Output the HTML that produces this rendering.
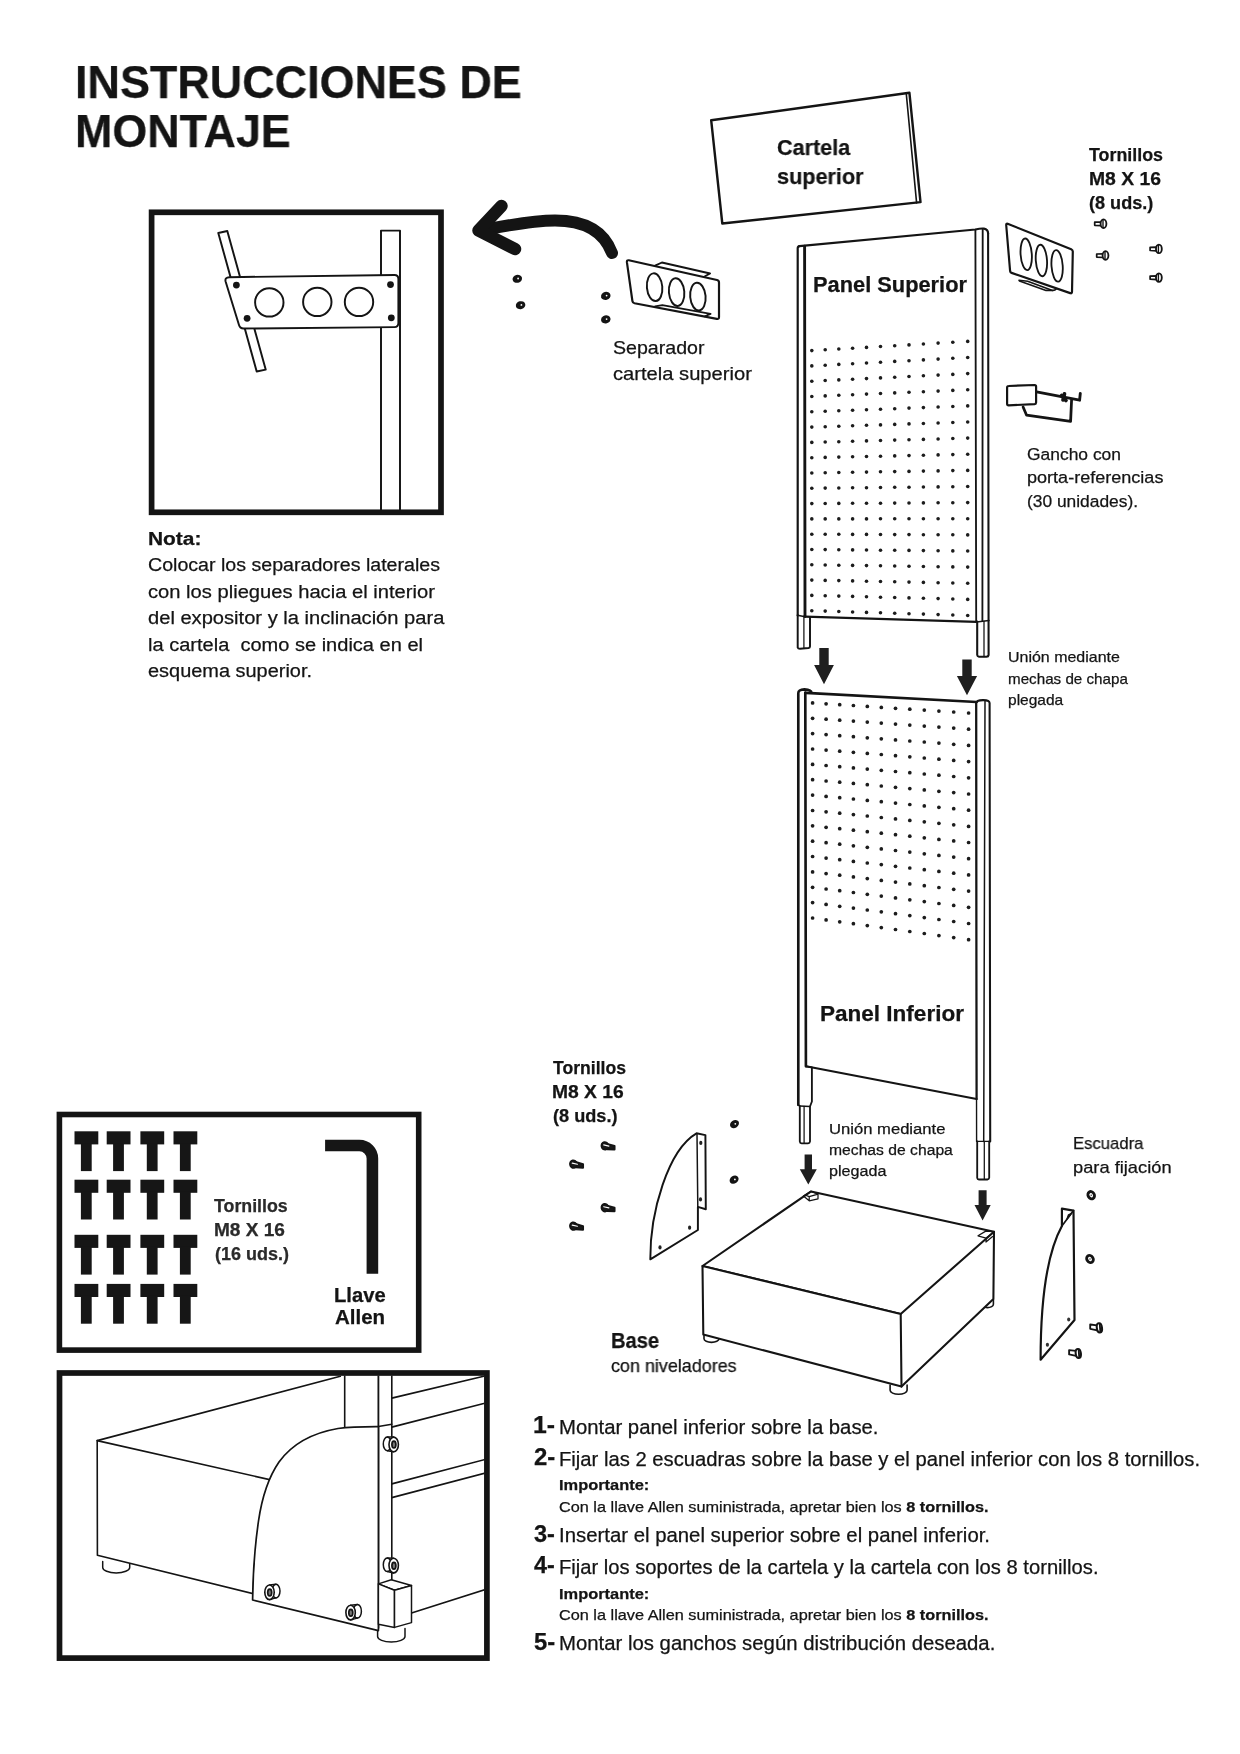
<!DOCTYPE html>
<html lang="es"><head><meta charset="utf-8"><title>Instrucciones de montaje</title>
<style>
html,body{margin:0;padding:0;background:#fff;}
body{width:1240px;height:1754px;position:relative;overflow:hidden;font-family:"Liberation Sans",sans-serif;color:#141414;}
svg#d{position:absolute;left:0;top:0;}
.t{position:absolute;white-space:nowrap;line-height:1;transform-origin:0 50%;font-weight:400;will-change:transform;-webkit-text-stroke:0.25px currentColor;}
.t b{font-weight:700;}
#pg{position:absolute;left:0;top:0;width:1240px;height:1754px;filter:blur(0.35px);}
</style></head><body><div id="pg">
<svg id="d" width="1240" height="1754" viewBox="0 0 1240 1754" fill="none" stroke="#141414" stroke-linecap="round" stroke-linejoin="round">
<g id="box1">
<rect x="151.6" y="212.3" width="289.4" height="300" stroke-width="5.7" stroke-linejoin="miter" fill="#fff"/>
<path d="M381 510 L381 230.6 L400 230.6 L400 510" stroke-width="1.95" fill="none" />
<path d="M218.3 233.0 L227.3 231.0 L265.7 369.6 L256.7 371.5 Z" stroke-width="1.95" fill="#fff" />
<path d="M229.4 277.2 L394.4 275 Q398.4 275 398.4 279 L398.4 323 Q398.4 327.1 394.4 327.1 L243.5 328.5 Q240 328.5 239 325 L225.6 281.5 Q224.6 277.3 229.4 277.2 Z" stroke-width="1.95" fill="#fff" />
<circle cx="269.3" cy="302.4" r="14.2" stroke-width="1.95" fill="none" />
<circle cx="317.3" cy="301.9" r="14.2" stroke-width="1.95" fill="none" />
<circle cx="359.0" cy="301.9" r="14.2" stroke-width="1.95" fill="none" />
<circle cx="236.4" cy="285.1" r="3.4" stroke-width="0" fill="#141414" />
<circle cx="247.1" cy="318.3" r="3.4" stroke-width="0" fill="#141414" />
<circle cx="390.5" cy="284.6" r="3.4" stroke-width="0" fill="#141414" />
<circle cx="391.3" cy="317.8" r="3.4" stroke-width="0" fill="#141414" />
</g>
<g id="arrow">
<path d="M612 253 C603 229 581 220.5 555 220.5 C530 220.5 505 226 481 230.5" stroke-width="12" fill="none" />
<path d="M501.5 206 L478.5 230.5 L515 249" stroke-width="12.5" fill="none" />
</g>
<ellipse cx="517.3" cy="278.8" rx="4.8" ry="4.0" stroke-width="0" fill="#141414" transform="rotate(-15 517.3 278.8)" />
<circle cx="518.1" cy="278.5" r="0.9" stroke-width="0" fill="#fff" />
<ellipse cx="520.6" cy="305.2" rx="4.8" ry="4.0" stroke-width="0" fill="#141414" transform="rotate(-15 520.6 305.2)" />
<circle cx="521.4" cy="304.9" r="0.9" stroke-width="0" fill="#fff" />
<ellipse cx="605.8" cy="295.9" rx="4.8" ry="4.0" stroke-width="0" fill="#141414" transform="rotate(-15 605.8 295.9)" />
<circle cx="606.6" cy="295.6" r="0.9" stroke-width="0" fill="#fff" />
<ellipse cx="605.8" cy="319.4" rx="4.8" ry="4.0" stroke-width="0" fill="#141414" transform="rotate(-15 605.8 319.4)" />
<circle cx="606.6" cy="319.1" r="0.9" stroke-width="0" fill="#fff" />
<g id="sepL">
<path d="M655.1 265.7 L661.9 262.5 L710.1 273.5 L704.9 276.2" stroke-width="1.84" fill="none" />
<path d="M628.8 260.3 L717 280 Q719 280.6 719 282.6 L719 317.2 Q718.9 319.4 716.8 318.9 L634.5 303.3 Q632.7 302.9 632.4 301 L626.9 262.2 Q626.7 259.9 628.8 260.3 Z" stroke-width="2.18" fill="#fff" />
<path d="M655.1 306.4 L662.4 305.2 L710.6 313.9 L704.9 316.3" stroke-width="1.72" fill="none" />
<ellipse cx="654.6" cy="287.2" rx="7.7" ry="13.9" stroke-width="1.95" fill="none" transform="rotate(-5 654.6 287.2)" />
<ellipse cx="676.6" cy="292.1" rx="7.7" ry="13.9" stroke-width="1.95" fill="none" transform="rotate(-5 676.6 292.1)" />
<ellipse cx="697.9" cy="296.6" rx="7.7" ry="13.9" stroke-width="1.95" fill="none" transform="rotate(-5 697.9 296.6)" />
</g>
<g id="cartela">
<path d="M711.2 120.3 L909.4 92.7 L920.5 202.1 L722.3 223.5 Z" stroke-width="2.42" fill="#fff" />
<path d="M906.3 94.0 L916.6 202.9" stroke-width="1.61" />
</g>
<g id="sepR">
<path d="M1019 280.3 L1027.6 281.2 L1052.5 290.4 Q1055 290.6 1056.2 289" stroke-width="1.61" fill="none" />
<path d="M1019.5 281 L1046 290.4 L1052.5 290.5" stroke-width="1.61" fill="none" />
<path d="M1007.6 223.7 L1071.2 249.2 Q1072.8 250 1072.8 251.6 L1072 292 Q1071.9 293.8 1070.2 293.1 L1011.6 272.9 Q1010.3 272.4 1010.1 271 L1006.2 225 Q1006.2 223.2 1007.6 223.7 Z" stroke-width="2.18" fill="#fff" />
<ellipse cx="1026.2" cy="254.3" rx="5.6" ry="15.8" stroke-width="1.84" fill="none" transform="rotate(-4 1026.2 254.3)" />
<ellipse cx="1041.4" cy="260.5" rx="5.6" ry="15.8" stroke-width="1.84" fill="none" transform="rotate(-4 1041.4 260.5)" />
<ellipse cx="1057.1" cy="265.9" rx="5.6" ry="15.8" stroke-width="1.84" fill="none" transform="rotate(-4 1057.1 265.9)" />
</g>
<path d="M1094.7 222.2 L1101.2 222.0 L1101.2 225.7 L1094.7 225.3 Z" stroke-width="1.72" fill="#fff" />
<ellipse cx="1103.5" cy="223.7" rx="2.9" ry="4.3" stroke-width="1.84" fill="#fff" />
<path d="M1103.0 220.1 L1103.0 227.3" stroke-width="1.38" />
<path d="M1096.7 254.0 L1103.2 253.8 L1103.2 257.5 L1096.7 257.1 Z" stroke-width="1.72" fill="#fff" />
<ellipse cx="1105.5" cy="255.5" rx="2.9" ry="4.3" stroke-width="1.84" fill="#fff" />
<path d="M1105.0 251.9 L1105.0 259.1" stroke-width="1.38" />
<path d="M1150.1 247.4 L1156.6 247.2 L1156.6 250.9 L1150.1 250.5 Z" stroke-width="1.72" fill="#fff" />
<ellipse cx="1158.9" cy="248.9" rx="2.9" ry="4.3" stroke-width="1.84" fill="#fff" />
<path d="M1158.4 245.3 L1158.4 252.5" stroke-width="1.38" />
<path d="M1150.1 276.1 L1156.6 275.9 L1156.6 279.6 L1150.1 279.2 Z" stroke-width="1.72" fill="#fff" />
<ellipse cx="1158.9" cy="277.6" rx="2.9" ry="4.3" stroke-width="1.84" fill="#fff" />
<path d="M1158.4 274.0 L1158.4 281.2" stroke-width="1.38" />
<g id="hook">
<path d="M1023.1 407 L1026.6 415.2 L1070.6 421.4 L1071.6 399.5" stroke-width="2.76" fill="none" />
<path d="M1036.6 391.8 L1079.6 400.2 L1080.3 393.4" stroke-width="2.88" fill="none" />
<path d="M1061.5 395.5 L1066 400.5 M1064.5 393.8 L1063 400" stroke-width="3.68" fill="none" />
<path d="M1008.6 386 L1034.6 385 Q1036.1 385 1036.1 386.5 L1036.1 402.6 Q1036.1 404.1 1034.6 404.2 L1008.6 405.3 Q1007.1 405.3 1007.1 403.8 L1007.1 387.5 Q1007.1 386 1008.6 386 Z" stroke-width="2.18" fill="#fff" />
</g>
<g id="panelU">
<path d="M797.4 246.8 L982.3 228.0 L988.3 229.6 L988.3 621.0 L976.6 621.9 L805.0 616.7 L797.4 615.5 Z" stroke-width="0" fill="#fff" />
<path d="M797.7 615 L797.7 647.5 Q798 648.8 800 648.8 L808.5 648 Q810 647.8 810 646.5 L810 617" stroke-width="1.95" fill="none" />
<path d="M803.9 616.0 L803.9 648.0" stroke-width="1.26" />
<path d="M797.7 615.5 L797.7 248.2 Q797.7 246.3 799.6 246.1" stroke-width="2.18" fill="none" />
<path d="M804.6 246.2 L805.0 616.5" stroke-width="2.88" />
<path d="M799.4 246.2 L975.4 229.5 Q981 228.2 984 228.6 Q988.1 229.3 988.1 233.5" stroke-width="2.18" fill="none" />
<path d="M975.4 229.6 L976.2 621.5" stroke-width="1.84" />
<path d="M982.7 228.8 L982.4 621.0" stroke-width="1.84" />
<path d="M988.1 233 L988.6 655 Q988.4 656.6 986.5 656.7 L979 656.7 Q977.3 656.5 977.2 655 L977.2 621.5" stroke-width="2.07" fill="none" />
<path d="M984.0 621.5 L984.0 656.5" stroke-width="1.26" />
<path d="M976.6 621.9 L989.0 620.6" stroke-width="1.49" />
<path d="M797.5 615.3 L805.0 616.7" stroke-width="1.49" />
<path d="M805.0 616.7 L976.6 621.9" stroke-width="2.3" />
<g stroke="none" fill="#1c1c1c"><circle cx="811.8" cy="350.6" r="1.8"/><circle cx="825.2" cy="349.8" r="1.8"/><circle cx="838.8" cy="349.0" r="1.8"/><circle cx="852.6" cy="348.2" r="1.8"/><circle cx="866.5" cy="347.4" r="1.8"/><circle cx="880.5" cy="346.5" r="1.8"/><circle cx="894.7" cy="345.7" r="1.8"/><circle cx="909.0" cy="344.9" r="1.8"/><circle cx="923.4" cy="344.0" r="1.8"/><circle cx="938.1" cy="343.1" r="1.8"/><circle cx="952.8" cy="342.3" r="1.8"/><circle cx="967.7" cy="341.4" r="1.8"/><circle cx="811.8" cy="365.9" r="1.8"/><circle cx="825.2" cy="365.2" r="1.8"/><circle cx="838.8" cy="364.4" r="1.8"/><circle cx="852.6" cy="363.7" r="1.8"/><circle cx="866.5" cy="363.0" r="1.8"/><circle cx="880.5" cy="362.2" r="1.8"/><circle cx="894.7" cy="361.4" r="1.8"/><circle cx="909.0" cy="360.7" r="1.8"/><circle cx="923.4" cy="359.9" r="1.8"/><circle cx="938.1" cy="359.1" r="1.8"/><circle cx="952.8" cy="358.3" r="1.8"/><circle cx="967.7" cy="357.5" r="1.8"/><circle cx="811.8" cy="381.2" r="1.8"/><circle cx="825.2" cy="380.5" r="1.8"/><circle cx="838.8" cy="379.9" r="1.8"/><circle cx="852.6" cy="379.2" r="1.8"/><circle cx="866.5" cy="378.6" r="1.8"/><circle cx="880.5" cy="377.9" r="1.8"/><circle cx="894.7" cy="377.2" r="1.8"/><circle cx="909.0" cy="376.5" r="1.8"/><circle cx="923.4" cy="375.8" r="1.8"/><circle cx="938.1" cy="375.1" r="1.8"/><circle cx="952.8" cy="374.4" r="1.8"/><circle cx="967.7" cy="373.6" r="1.8"/><circle cx="811.8" cy="396.5" r="1.8"/><circle cx="825.2" cy="395.9" r="1.8"/><circle cx="838.8" cy="395.3" r="1.8"/><circle cx="852.6" cy="394.7" r="1.8"/><circle cx="866.5" cy="394.1" r="1.8"/><circle cx="880.5" cy="393.5" r="1.8"/><circle cx="894.7" cy="392.9" r="1.8"/><circle cx="909.0" cy="392.3" r="1.8"/><circle cx="923.4" cy="391.7" r="1.8"/><circle cx="938.1" cy="391.1" r="1.8"/><circle cx="952.8" cy="390.4" r="1.8"/><circle cx="967.7" cy="389.8" r="1.8"/><circle cx="811.8" cy="411.8" r="1.8"/><circle cx="825.2" cy="411.3" r="1.8"/><circle cx="838.8" cy="410.8" r="1.8"/><circle cx="852.6" cy="410.3" r="1.8"/><circle cx="866.5" cy="409.7" r="1.8"/><circle cx="880.5" cy="409.2" r="1.8"/><circle cx="894.7" cy="408.7" r="1.8"/><circle cx="909.0" cy="408.1" r="1.8"/><circle cx="923.4" cy="407.6" r="1.8"/><circle cx="938.1" cy="407.0" r="1.8"/><circle cx="952.8" cy="406.5" r="1.8"/><circle cx="967.7" cy="405.9" r="1.8"/><circle cx="811.8" cy="427.1" r="1.8"/><circle cx="825.2" cy="426.7" r="1.8"/><circle cx="838.8" cy="426.2" r="1.8"/><circle cx="852.6" cy="425.8" r="1.8"/><circle cx="866.5" cy="425.3" r="1.8"/><circle cx="880.5" cy="424.9" r="1.8"/><circle cx="894.7" cy="424.4" r="1.8"/><circle cx="909.0" cy="423.9" r="1.8"/><circle cx="923.4" cy="423.5" r="1.8"/><circle cx="938.1" cy="423.0" r="1.8"/><circle cx="952.8" cy="422.5" r="1.8"/><circle cx="967.7" cy="422.0" r="1.8"/><circle cx="811.8" cy="442.4" r="1.8"/><circle cx="825.2" cy="442.0" r="1.8"/><circle cx="838.8" cy="441.7" r="1.8"/><circle cx="852.6" cy="441.3" r="1.8"/><circle cx="866.5" cy="440.9" r="1.8"/><circle cx="880.5" cy="440.5" r="1.8"/><circle cx="894.7" cy="440.1" r="1.8"/><circle cx="909.0" cy="439.7" r="1.8"/><circle cx="923.4" cy="439.4" r="1.8"/><circle cx="938.1" cy="439.0" r="1.8"/><circle cx="952.8" cy="438.5" r="1.8"/><circle cx="967.7" cy="438.1" r="1.8"/><circle cx="811.8" cy="457.7" r="1.8"/><circle cx="825.2" cy="457.4" r="1.8"/><circle cx="838.8" cy="457.1" r="1.8"/><circle cx="852.6" cy="456.8" r="1.8"/><circle cx="866.5" cy="456.5" r="1.8"/><circle cx="880.5" cy="456.2" r="1.8"/><circle cx="894.7" cy="455.9" r="1.8"/><circle cx="909.0" cy="455.6" r="1.8"/><circle cx="923.4" cy="455.2" r="1.8"/><circle cx="938.1" cy="454.9" r="1.8"/><circle cx="952.8" cy="454.6" r="1.8"/><circle cx="967.7" cy="454.3" r="1.8"/><circle cx="811.8" cy="473.0" r="1.8"/><circle cx="825.2" cy="472.8" r="1.8"/><circle cx="838.8" cy="472.5" r="1.8"/><circle cx="852.6" cy="472.3" r="1.8"/><circle cx="866.5" cy="472.1" r="1.8"/><circle cx="880.5" cy="471.8" r="1.8"/><circle cx="894.7" cy="471.6" r="1.8"/><circle cx="909.0" cy="471.4" r="1.8"/><circle cx="923.4" cy="471.1" r="1.8"/><circle cx="938.1" cy="470.9" r="1.8"/><circle cx="952.8" cy="470.6" r="1.8"/><circle cx="967.7" cy="470.4" r="1.8"/><circle cx="811.8" cy="488.3" r="1.8"/><circle cx="825.2" cy="488.1" r="1.8"/><circle cx="838.8" cy="488.0" r="1.8"/><circle cx="852.6" cy="487.8" r="1.8"/><circle cx="866.5" cy="487.7" r="1.8"/><circle cx="880.5" cy="487.5" r="1.8"/><circle cx="894.7" cy="487.3" r="1.8"/><circle cx="909.0" cy="487.2" r="1.8"/><circle cx="923.4" cy="487.0" r="1.8"/><circle cx="938.1" cy="486.9" r="1.8"/><circle cx="952.8" cy="486.7" r="1.8"/><circle cx="967.7" cy="486.5" r="1.8"/><circle cx="811.8" cy="503.6" r="1.8"/><circle cx="825.2" cy="503.5" r="1.8"/><circle cx="838.8" cy="503.4" r="1.8"/><circle cx="852.6" cy="503.3" r="1.8"/><circle cx="866.5" cy="503.3" r="1.8"/><circle cx="880.5" cy="503.2" r="1.8"/><circle cx="894.7" cy="503.1" r="1.8"/><circle cx="909.0" cy="503.0" r="1.8"/><circle cx="923.4" cy="502.9" r="1.8"/><circle cx="938.1" cy="502.8" r="1.8"/><circle cx="952.8" cy="502.7" r="1.8"/><circle cx="967.7" cy="502.6" r="1.8"/><circle cx="811.8" cy="518.9" r="1.8"/><circle cx="825.2" cy="518.9" r="1.8"/><circle cx="838.8" cy="518.9" r="1.8"/><circle cx="852.6" cy="518.9" r="1.8"/><circle cx="866.5" cy="518.9" r="1.8"/><circle cx="880.5" cy="518.8" r="1.8"/><circle cx="894.7" cy="518.8" r="1.8"/><circle cx="909.0" cy="518.8" r="1.8"/><circle cx="923.4" cy="518.8" r="1.8"/><circle cx="938.1" cy="518.8" r="1.8"/><circle cx="952.8" cy="518.8" r="1.8"/><circle cx="967.7" cy="518.8" r="1.8"/><circle cx="811.8" cy="534.2" r="1.8"/><circle cx="825.2" cy="534.3" r="1.8"/><circle cx="838.8" cy="534.3" r="1.8"/><circle cx="852.6" cy="534.4" r="1.8"/><circle cx="866.5" cy="534.4" r="1.8"/><circle cx="880.5" cy="534.5" r="1.8"/><circle cx="894.7" cy="534.6" r="1.8"/><circle cx="909.0" cy="534.6" r="1.8"/><circle cx="923.4" cy="534.7" r="1.8"/><circle cx="938.1" cy="534.8" r="1.8"/><circle cx="952.8" cy="534.8" r="1.8"/><circle cx="967.7" cy="534.9" r="1.8"/><circle cx="811.8" cy="549.5" r="1.8"/><circle cx="825.2" cy="549.6" r="1.8"/><circle cx="838.8" cy="549.8" r="1.8"/><circle cx="852.6" cy="549.9" r="1.8"/><circle cx="866.5" cy="550.0" r="1.8"/><circle cx="880.5" cy="550.2" r="1.8"/><circle cx="894.7" cy="550.3" r="1.8"/><circle cx="909.0" cy="550.4" r="1.8"/><circle cx="923.4" cy="550.6" r="1.8"/><circle cx="938.1" cy="550.7" r="1.8"/><circle cx="952.8" cy="550.9" r="1.8"/><circle cx="967.7" cy="551.0" r="1.8"/><circle cx="811.8" cy="564.8" r="1.8"/><circle cx="825.2" cy="565.0" r="1.8"/><circle cx="838.8" cy="565.2" r="1.8"/><circle cx="852.6" cy="565.4" r="1.8"/><circle cx="866.5" cy="565.6" r="1.8"/><circle cx="880.5" cy="565.8" r="1.8"/><circle cx="894.7" cy="566.0" r="1.8"/><circle cx="909.0" cy="566.3" r="1.8"/><circle cx="923.4" cy="566.5" r="1.8"/><circle cx="938.1" cy="566.7" r="1.8"/><circle cx="952.8" cy="566.9" r="1.8"/><circle cx="967.7" cy="567.1" r="1.8"/><circle cx="811.8" cy="580.1" r="1.8"/><circle cx="825.2" cy="580.4" r="1.8"/><circle cx="838.8" cy="580.6" r="1.8"/><circle cx="852.6" cy="580.9" r="1.8"/><circle cx="866.5" cy="581.2" r="1.8"/><circle cx="880.5" cy="581.5" r="1.8"/><circle cx="894.7" cy="581.8" r="1.8"/><circle cx="909.0" cy="582.1" r="1.8"/><circle cx="923.4" cy="582.4" r="1.8"/><circle cx="938.1" cy="582.7" r="1.8"/><circle cx="952.8" cy="583.0" r="1.8"/><circle cx="967.7" cy="583.3" r="1.8"/><circle cx="811.8" cy="595.4" r="1.8"/><circle cx="825.2" cy="595.7" r="1.8"/><circle cx="838.8" cy="596.1" r="1.8"/><circle cx="852.6" cy="596.4" r="1.8"/><circle cx="866.5" cy="596.8" r="1.8"/><circle cx="880.5" cy="597.2" r="1.8"/><circle cx="894.7" cy="597.5" r="1.8"/><circle cx="909.0" cy="597.9" r="1.8"/><circle cx="923.4" cy="598.2" r="1.8"/><circle cx="938.1" cy="598.6" r="1.8"/><circle cx="952.8" cy="599.0" r="1.8"/><circle cx="967.7" cy="599.4" r="1.8"/><circle cx="811.8" cy="610.7" r="1.8"/><circle cx="825.2" cy="611.1" r="1.8"/><circle cx="838.8" cy="611.5" r="1.8"/><circle cx="852.6" cy="612.0" r="1.8"/><circle cx="866.5" cy="612.4" r="1.8"/><circle cx="880.5" cy="612.8" r="1.8"/><circle cx="894.7" cy="613.3" r="1.8"/><circle cx="909.0" cy="613.7" r="1.8"/><circle cx="923.4" cy="614.1" r="1.8"/><circle cx="938.1" cy="614.6" r="1.8"/><circle cx="952.8" cy="615.0" r="1.8"/><circle cx="967.7" cy="615.5" r="1.8"/></g>
</g>
<path d="M819.3 647.9 L828.7 647.9 L828.7 664.9 L833.9 664.9 L824.0 684.3 L814.1 664.9 L819.3 664.9 Z" stroke-width="0" fill="#1f1f1f" />
<path d="M962.3 659.4 L971.7 659.4 L971.7 676.0 L977.1 676.0 L967.0 695.2 L956.9 676.0 L962.3 676.0 Z" stroke-width="0" fill="#1f1f1f" />
<path d="M804.6 1154.4 L812.0 1154.4 L812.0 1169.2 L816.8 1169.2 L808.3 1184.6 L799.8 1169.2 L804.6 1169.2 Z" stroke-width="0" fill="#1f1f1f" />
<path d="M978.6 1190.2 L986.6 1190.2 L986.6 1205.0 L990.7 1205.0 L982.6 1220.6 L974.5 1205.0 L978.6 1205.0 Z" stroke-width="0" fill="#1f1f1f" />
<g id="panelL">
<path d="M798.0 692.0 L806.0 692.7 L976.6 702.0 L989.6 701.0 L989.6 1141.0 L977.0 1141.0 L976.6 1099.1 L806.0 1066.3 L798.5 1066.0 Z" stroke-width="0" fill="#fff" />
<path d="M811.4 692.6 Q811.5 690 804.4 689.4 Q798 689.6 798.3 693.5 L798.3 1104.7" stroke-width="2.64" fill="none" />
<path d="M805.3 692.5 L805.9 1066.3" stroke-width="2.64" />
<path d="M806 1066.3 L811.9 1067.4 L811.9 1101.5 L810 1106.5 L810 1141.5 Q809.8 1143.2 808 1143.3 L801.6 1143.3 Q799.9 1143.2 799.8 1141.5 L799.8 1106 L797.9 1104.7" stroke-width="1.84" fill="none" />
<path d="M799.8 1106.0 L810.0 1106.5" stroke-width="1.26" />
<path d="M804.1 1106.3 L804.1 1143.0" stroke-width="1.26" />
<path d="M805.8 692.9 L976.6 702.0" stroke-width="2.64" />
<path d="M976.6 1099.1 L976.3 703 Q976.4 700.3 983 700.1 Q989.4 700 989.6 703 L990.2 1141.4" stroke-width="2.07" fill="none" />
<path d="M975.9 703.0 L976.6 1141.4" stroke-width="1.38" />
<path d="M985.0 701.5 L983.7 1141.4" stroke-width="1.49" />
<path d="M976.6 1141.4 L990.2 1141.4" stroke-width="1.26" />
<path d="M977.2 1141.4 L977.2 1177.8 Q977.4 1179.4 979 1179.5 L987.4 1179.5 Q989.1 1179.4 989.2 1177.8 L989.2 1141.4" stroke-width="1.84" fill="none" />
<path d="M984.3 1141.4 L984.3 1179.0" stroke-width="1.26" />
<path d="M806.0 1066.3 L976.6 1099.1" stroke-width="2.07" />
<g stroke="none" fill="#1c1c1c"><circle cx="812.6" cy="702.9" r="1.85"/><circle cx="826.1" cy="703.8" r="1.85"/><circle cx="839.7" cy="704.7" r="1.85"/><circle cx="853.4" cy="705.5" r="1.85"/><circle cx="867.3" cy="706.4" r="1.85"/><circle cx="881.3" cy="707.4" r="1.85"/><circle cx="895.5" cy="708.3" r="1.85"/><circle cx="909.8" cy="709.2" r="1.85"/><circle cx="924.3" cy="710.1" r="1.85"/><circle cx="938.9" cy="711.1" r="1.85"/><circle cx="953.7" cy="712.0" r="1.85"/><circle cx="968.6" cy="713.0" r="1.85"/><circle cx="812.6" cy="718.3" r="1.85"/><circle cx="826.1" cy="719.2" r="1.85"/><circle cx="839.7" cy="720.2" r="1.85"/><circle cx="853.4" cy="721.1" r="1.85"/><circle cx="867.3" cy="722.1" r="1.85"/><circle cx="881.3" cy="723.1" r="1.85"/><circle cx="895.5" cy="724.1" r="1.85"/><circle cx="909.8" cy="725.1" r="1.85"/><circle cx="924.3" cy="726.1" r="1.85"/><circle cx="938.9" cy="727.1" r="1.85"/><circle cx="953.7" cy="728.1" r="1.85"/><circle cx="968.6" cy="729.2" r="1.85"/><circle cx="812.6" cy="733.6" r="1.85"/><circle cx="826.1" cy="734.6" r="1.85"/><circle cx="839.7" cy="735.7" r="1.85"/><circle cx="853.4" cy="736.7" r="1.85"/><circle cx="867.3" cy="737.8" r="1.85"/><circle cx="881.3" cy="738.8" r="1.85"/><circle cx="895.5" cy="739.9" r="1.85"/><circle cx="909.8" cy="741.0" r="1.85"/><circle cx="924.3" cy="742.0" r="1.85"/><circle cx="938.9" cy="743.1" r="1.85"/><circle cx="953.7" cy="744.3" r="1.85"/><circle cx="968.6" cy="745.4" r="1.85"/><circle cx="812.6" cy="749.0" r="1.85"/><circle cx="826.1" cy="750.1" r="1.85"/><circle cx="839.7" cy="751.2" r="1.85"/><circle cx="853.4" cy="752.3" r="1.85"/><circle cx="867.3" cy="753.4" r="1.85"/><circle cx="881.3" cy="754.5" r="1.85"/><circle cx="895.5" cy="755.7" r="1.85"/><circle cx="909.8" cy="756.8" r="1.85"/><circle cx="924.3" cy="758.0" r="1.85"/><circle cx="938.9" cy="759.2" r="1.85"/><circle cx="953.7" cy="760.4" r="1.85"/><circle cx="968.6" cy="761.6" r="1.85"/><circle cx="812.6" cy="764.4" r="1.85"/><circle cx="826.1" cy="765.5" r="1.85"/><circle cx="839.7" cy="766.7" r="1.85"/><circle cx="853.4" cy="767.9" r="1.85"/><circle cx="867.3" cy="769.1" r="1.85"/><circle cx="881.3" cy="770.3" r="1.85"/><circle cx="895.5" cy="771.5" r="1.85"/><circle cx="909.8" cy="772.7" r="1.85"/><circle cx="924.3" cy="774.0" r="1.85"/><circle cx="938.9" cy="775.2" r="1.85"/><circle cx="953.7" cy="776.5" r="1.85"/><circle cx="968.6" cy="777.8" r="1.85"/><circle cx="812.6" cy="779.7" r="1.85"/><circle cx="826.1" cy="781.0" r="1.85"/><circle cx="839.7" cy="782.2" r="1.85"/><circle cx="853.4" cy="783.4" r="1.85"/><circle cx="867.3" cy="784.7" r="1.85"/><circle cx="881.3" cy="786.0" r="1.85"/><circle cx="895.5" cy="787.3" r="1.85"/><circle cx="909.8" cy="788.6" r="1.85"/><circle cx="924.3" cy="789.9" r="1.85"/><circle cx="938.9" cy="791.3" r="1.85"/><circle cx="953.7" cy="792.6" r="1.85"/><circle cx="968.6" cy="794.0" r="1.85"/><circle cx="812.6" cy="795.1" r="1.85"/><circle cx="826.1" cy="796.4" r="1.85"/><circle cx="839.7" cy="797.7" r="1.85"/><circle cx="853.4" cy="799.0" r="1.85"/><circle cx="867.3" cy="800.4" r="1.85"/><circle cx="881.3" cy="801.7" r="1.85"/><circle cx="895.5" cy="803.1" r="1.85"/><circle cx="909.8" cy="804.5" r="1.85"/><circle cx="924.3" cy="805.9" r="1.85"/><circle cx="938.9" cy="807.3" r="1.85"/><circle cx="953.7" cy="808.7" r="1.85"/><circle cx="968.6" cy="810.2" r="1.85"/><circle cx="812.6" cy="810.5" r="1.85"/><circle cx="826.1" cy="811.8" r="1.85"/><circle cx="839.7" cy="813.2" r="1.85"/><circle cx="853.4" cy="814.6" r="1.85"/><circle cx="867.3" cy="816.0" r="1.85"/><circle cx="881.3" cy="817.5" r="1.85"/><circle cx="895.5" cy="818.9" r="1.85"/><circle cx="909.8" cy="820.4" r="1.85"/><circle cx="924.3" cy="821.8" r="1.85"/><circle cx="938.9" cy="823.3" r="1.85"/><circle cx="953.7" cy="824.8" r="1.85"/><circle cx="968.6" cy="826.4" r="1.85"/><circle cx="812.6" cy="825.8" r="1.85"/><circle cx="826.1" cy="827.3" r="1.85"/><circle cx="839.7" cy="828.7" r="1.85"/><circle cx="853.4" cy="830.2" r="1.85"/><circle cx="867.3" cy="831.7" r="1.85"/><circle cx="881.3" cy="833.2" r="1.85"/><circle cx="895.5" cy="834.7" r="1.85"/><circle cx="909.8" cy="836.2" r="1.85"/><circle cx="924.3" cy="837.8" r="1.85"/><circle cx="938.9" cy="839.4" r="1.85"/><circle cx="953.7" cy="840.9" r="1.85"/><circle cx="968.6" cy="842.5" r="1.85"/><circle cx="812.6" cy="841.2" r="1.85"/><circle cx="826.1" cy="842.7" r="1.85"/><circle cx="839.7" cy="844.2" r="1.85"/><circle cx="853.4" cy="845.8" r="1.85"/><circle cx="867.3" cy="847.3" r="1.85"/><circle cx="881.3" cy="848.9" r="1.85"/><circle cx="895.5" cy="850.5" r="1.85"/><circle cx="909.8" cy="852.1" r="1.85"/><circle cx="924.3" cy="853.8" r="1.85"/><circle cx="938.9" cy="855.4" r="1.85"/><circle cx="953.7" cy="857.1" r="1.85"/><circle cx="968.6" cy="858.7" r="1.85"/><circle cx="812.6" cy="856.5" r="1.85"/><circle cx="826.1" cy="858.1" r="1.85"/><circle cx="839.7" cy="859.7" r="1.85"/><circle cx="853.4" cy="861.4" r="1.85"/><circle cx="867.3" cy="863.0" r="1.85"/><circle cx="881.3" cy="864.6" r="1.85"/><circle cx="895.5" cy="866.3" r="1.85"/><circle cx="909.8" cy="868.0" r="1.85"/><circle cx="924.3" cy="869.7" r="1.85"/><circle cx="938.9" cy="871.4" r="1.85"/><circle cx="953.7" cy="873.2" r="1.85"/><circle cx="968.6" cy="874.9" r="1.85"/><circle cx="812.6" cy="871.9" r="1.85"/><circle cx="826.1" cy="873.6" r="1.85"/><circle cx="839.7" cy="875.2" r="1.85"/><circle cx="853.4" cy="876.9" r="1.85"/><circle cx="867.3" cy="878.6" r="1.85"/><circle cx="881.3" cy="880.4" r="1.85"/><circle cx="895.5" cy="882.1" r="1.85"/><circle cx="909.8" cy="883.9" r="1.85"/><circle cx="924.3" cy="885.7" r="1.85"/><circle cx="938.9" cy="887.5" r="1.85"/><circle cx="953.7" cy="889.3" r="1.85"/><circle cx="968.6" cy="891.1" r="1.85"/><circle cx="812.6" cy="887.3" r="1.85"/><circle cx="826.1" cy="889.0" r="1.85"/><circle cx="839.7" cy="890.7" r="1.85"/><circle cx="853.4" cy="892.5" r="1.85"/><circle cx="867.3" cy="894.3" r="1.85"/><circle cx="881.3" cy="896.1" r="1.85"/><circle cx="895.5" cy="897.9" r="1.85"/><circle cx="909.8" cy="899.8" r="1.85"/><circle cx="924.3" cy="901.6" r="1.85"/><circle cx="938.9" cy="903.5" r="1.85"/><circle cx="953.7" cy="905.4" r="1.85"/><circle cx="968.6" cy="907.3" r="1.85"/><circle cx="812.6" cy="902.6" r="1.85"/><circle cx="826.1" cy="904.4" r="1.85"/><circle cx="839.7" cy="906.3" r="1.85"/><circle cx="853.4" cy="908.1" r="1.85"/><circle cx="867.3" cy="910.0" r="1.85"/><circle cx="881.3" cy="911.8" r="1.85"/><circle cx="895.5" cy="913.7" r="1.85"/><circle cx="909.8" cy="915.6" r="1.85"/><circle cx="924.3" cy="917.6" r="1.85"/><circle cx="938.9" cy="919.5" r="1.85"/><circle cx="953.7" cy="921.5" r="1.85"/><circle cx="968.6" cy="923.5" r="1.85"/><circle cx="812.6" cy="918.0" r="1.85"/><circle cx="826.1" cy="919.9" r="1.85"/><circle cx="839.7" cy="921.8" r="1.85"/><circle cx="853.4" cy="923.7" r="1.85"/><circle cx="867.3" cy="925.6" r="1.85"/><circle cx="881.3" cy="927.6" r="1.85"/><circle cx="895.5" cy="929.5" r="1.85"/><circle cx="909.8" cy="931.5" r="1.85"/><circle cx="924.3" cy="933.5" r="1.85"/><circle cx="938.9" cy="935.6" r="1.85"/><circle cx="953.7" cy="937.6" r="1.85"/><circle cx="968.6" cy="939.7" r="1.85"/></g>
</g>
<g id="base">
<path d="M704.0 1334.1 L704.0 1338.8 A7.5 3.6 0 0 0 719.0 1338.8 L719.0 1334.1" stroke-width="1.61" fill="#fff" />
<path d="M890.1 1385.1 L890.1 1390.3 A8.5 4.0 0 0 0 907.1 1390.3 L907.1 1385.1" stroke-width="1.61" fill="#fff" />
<path d="M981.4 1299.8 L981.4 1304.2 A6.0 3.4 0 0 0 993.4 1304.2 L993.4 1299.8" stroke-width="1.61" fill="#fff" />
<path d="M811.1 1191.4 L994.0 1231.7 L993.4 1298.9 L901.5 1386.6 L703.3 1334.5 L702.5 1266.0 Z" stroke-width="0" fill="#fff" />
<path d="M811.1 1191.4 L994.0 1231.7 L900.7 1314.0 L702.5 1266.0 Z" stroke-width="2.07" fill="#fff" />
<path d="M702.5 1266.0 L900.7 1314.0 L901.5 1386.6 L703.3 1334.5 Z" stroke-width="2.07" fill="#fff" />
<path d="M994 1231.7 L993.4 1298.9 L901.5 1386.6" stroke-width="2.07" fill="none" />
<path d="M803.4 1196.1 L811.1 1191.4 L818 1194.2 L818 1198.8 L809.2 1200.8 L803.4 1196.1 M809.2 1200.8 L809.2 1196.6 L818 1194.2 M809.2 1196.6 L805 1195" stroke-width="1.26" fill="none" />
<path d="M978 1235.8 L985.8 1231.1 L994 1231.7 L986 1238.2 Z M986 1238.2 L986 1242 L992.6 1236.6" stroke-width="1.26" fill="none" />
</g>
<g id="brL">
<path d="M696.5 1133.3 L705.4 1135.1 L705.8 1209.2 L697.9 1206.9 L697.9 1230 L650.3 1259.3 C650 1212 668 1150 696.5 1133.3 Z" stroke-width="1.95" fill="#fff" />
<path d="M697.0 1134.0 L697.8 1207.0" stroke-width="1.49" />
<ellipse cx="700.8" cy="1142.9" rx="1.6" ry="2.1" stroke-width="0" fill="#222" />
<ellipse cx="700.5" cy="1199.4" rx="1.6" ry="2.1" stroke-width="0" fill="#222" />
<ellipse cx="689.6" cy="1227.7" rx="1.6" ry="2.1" stroke-width="0" fill="#222" />
<ellipse cx="660.0" cy="1247.4" rx="1.6" ry="2.1" stroke-width="0" fill="#222" />
</g>
<path d="M607.1 1143.9 L614.5 1146.0 L614.5 1149.5 L607.1 1149.1 Z" stroke-width="2.07" fill="#1a1a1a" />
<ellipse cx="604.9" cy="1145.9" rx="3.5" ry="3.9" stroke-width="1.61" fill="#1a1a1a" transform="rotate(-12 604.9 1145.9)" />
<path d="M603.7 1144.9 L608.9 1146.1" stroke="#fff" stroke-width="1.1"/>
<path d="M575.6 1162.1 L583.0 1164.2 L583.0 1167.7 L575.6 1167.3 Z" stroke-width="2.07" fill="#1a1a1a" />
<ellipse cx="573.4" cy="1164.1" rx="3.5" ry="3.9" stroke-width="1.61" fill="#1a1a1a" transform="rotate(-12 573.4 1164.1)" />
<path d="M572.2 1163.1 L577.4 1164.3" stroke="#fff" stroke-width="1.1"/>
<path d="M607.1 1205.7 L614.5 1207.8 L614.5 1211.3 L607.1 1210.9 Z" stroke-width="2.07" fill="#1a1a1a" />
<ellipse cx="604.9" cy="1207.7" rx="3.5" ry="3.9" stroke-width="1.61" fill="#1a1a1a" transform="rotate(-12 604.9 1207.7)" />
<path d="M603.7 1206.7 L608.9 1207.9" stroke="#fff" stroke-width="1.1"/>
<path d="M575.6 1224.1 L583.0 1226.2 L583.0 1229.7 L575.6 1229.3 Z" stroke-width="2.07" fill="#1a1a1a" />
<ellipse cx="573.4" cy="1226.1" rx="3.5" ry="3.9" stroke-width="1.61" fill="#1a1a1a" transform="rotate(-12 573.4 1226.1)" />
<path d="M572.2 1225.1 L577.4 1226.3" stroke="#fff" stroke-width="1.1"/>
<ellipse cx="734.5" cy="1124.1" rx="4.8" ry="3.8" stroke-width="0" fill="#141414" transform="rotate(-35 734.5 1124.1)" />
<circle cx="735.3" cy="1123.8" r="0.9" stroke-width="0" fill="#fff" />
<ellipse cx="734.1" cy="1179.7" rx="4.8" ry="3.8" stroke-width="0" fill="#141414" transform="rotate(-35 734.1 1179.7)" />
<circle cx="734.9" cy="1179.4" r="0.9" stroke-width="0" fill="#fff" />
<g id="brR">
<path d="M1061.9 1208.7 L1073.5 1210.6 L1074.5 1320 L1040.6 1359.7 C1040.6 1308 1045.5 1256 1061.9 1226 Z" stroke-width="2.18" fill="#fff" />
<path d="M1061.9 1226 L1073.5 1210.6" stroke-width="1.72" fill="none" />
<path d="M1067 1219 L1071.5 1213.3 L1068.5 1214.8 Z" stroke-width="1.38" fill="#333" />
<ellipse cx="1068.7" cy="1319.6" rx="1.6" ry="2.0" stroke-width="0" fill="#333" />
<ellipse cx="1047.4" cy="1344.8" rx="1.6" ry="2.0" stroke-width="0" fill="#333" />
</g>
<ellipse cx="1091.2" cy="1195.2" rx="3.1" ry="3.8" stroke-width="2.88" fill="#fff" transform="rotate(-30 1091.2 1195.2)" />
<circle cx="1091.2" cy="1195.2" r="0.7" stroke-width="0" fill="#222" />
<ellipse cx="1090.0" cy="1259.0" rx="3.1" ry="3.8" stroke-width="2.88" fill="#fff" transform="rotate(-35 1090.0 1259.0)" />
<circle cx="1090.0" cy="1259.0" r="0.7" stroke-width="0" fill="#222" />
<path d="M1090.2 1324.5 L1097.2 1325.3 L1097.2 1330.3 L1090.2 1328.8 Z" stroke-width="1.84" fill="#fff" />
<ellipse cx="1099.4" cy="1327.9" rx="2.6" ry="4.6" stroke-width="2.07" fill="#fff" transform="rotate(-8 1099.4 1327.9)" />
<path d="M1099.8 1324.3 L1100.3 1331.5" stroke-width="1.84" />
<path d="M1069.1 1350.1 L1076.1 1350.9 L1076.1 1355.9 L1069.1 1354.4 Z" stroke-width="1.84" fill="#fff" />
<ellipse cx="1078.3" cy="1353.5" rx="2.6" ry="4.6" stroke-width="2.07" fill="#fff" transform="rotate(-8 1078.3 1353.5)" />
<path d="M1078.7 1349.9 L1079.2 1357.1" stroke-width="1.84" />
<g id="box2">
<rect x="59.4" y="1114.5" width="359.3" height="235.6" stroke-width="5.6" stroke-linejoin="miter" fill="#fff"/>
<g stroke="none" fill="#161616"><rect x="74.5" y="1131.3" width="23.8" height="13.1"/><rect x="80.9" y="1143.3" width="10.8" height="27.8"/><rect x="106.7" y="1131.3" width="23.8" height="13.1"/><rect x="113.1" y="1143.3" width="10.8" height="27.8"/><rect x="140.4" y="1131.3" width="23.8" height="13.1"/><rect x="146.8" y="1143.3" width="10.8" height="27.8"/><rect x="173.5" y="1131.3" width="23.8" height="13.1"/><rect x="179.9" y="1143.3" width="10.8" height="27.8"/><rect x="74.5" y="1179.7" width="23.8" height="13.1"/><rect x="80.9" y="1191.7" width="10.8" height="27.8"/><rect x="106.7" y="1179.7" width="23.8" height="13.1"/><rect x="113.1" y="1191.7" width="10.8" height="27.8"/><rect x="140.4" y="1179.7" width="23.8" height="13.1"/><rect x="146.8" y="1191.7" width="10.8" height="27.8"/><rect x="173.5" y="1179.7" width="23.8" height="13.1"/><rect x="179.9" y="1191.7" width="10.8" height="27.8"/><rect x="74.5" y="1234.8" width="23.8" height="13.1"/><rect x="80.9" y="1246.8" width="10.8" height="27.8"/><rect x="106.7" y="1234.8" width="23.8" height="13.1"/><rect x="113.1" y="1246.8" width="10.8" height="27.8"/><rect x="140.4" y="1234.8" width="23.8" height="13.1"/><rect x="146.8" y="1246.8" width="10.8" height="27.8"/><rect x="173.5" y="1234.8" width="23.8" height="13.1"/><rect x="179.9" y="1246.8" width="10.8" height="27.8"/><rect x="74.5" y="1283.9" width="23.8" height="13.1"/><rect x="80.9" y="1295.9" width="10.8" height="27.8"/><rect x="106.7" y="1283.9" width="23.8" height="13.1"/><rect x="113.1" y="1295.9" width="10.8" height="27.8"/><rect x="140.4" y="1283.9" width="23.8" height="13.1"/><rect x="146.8" y="1295.9" width="10.8" height="27.8"/><rect x="173.5" y="1283.9" width="23.8" height="13.1"/><rect x="179.9" y="1295.9" width="10.8" height="27.8"/></g>
<path d="M325.1 1145.5 L359.4 1145.5 A13 13 0 0 1 372.4 1158.5 L372.4 1273.7" stroke-width="11.6" fill="none" stroke-linecap="butt" stroke="#161616"/>
</g>
<g id="box3">
<rect x="59.5" y="1373" width="427.4" height="285.1" stroke-width="5.7" stroke-linejoin="miter" fill="#fff"/>
<clipPath id="c3"><rect x="62" y="1375.5" width="422.4" height="280"/></clipPath>
<g clip-path="url(#c3)">
<path d="M102.7 1561.4 L102.7 1567.4 A13.5 5.5 0 0 0 129.7 1567.4 L129.7 1561.4" stroke-width="1.49" fill="#fff" />
<path d="M97.2 1440.6 L304.0 1487.4 L304.0 1606.2 L97.4 1555.2 Z" stroke-width="1.61" fill="#fff" />
<path d="M97.2 1440.6 L340.3 1376.3" stroke-width="1.61" fill="none" />
<path d="M391.8 1398.1 L483.7 1376.3" stroke-width="1.61" fill="none" />
<path d="M391.8 1427.1 L483.7 1403.5" stroke-width="1.61" fill="none" />
<path d="M391.8 1483.9 L486.0 1459.2" stroke-width="1.61" />
<path d="M391.8 1497.6 L486.0 1472.8" stroke-width="1.61" />
<path d="M411.5 1612.9 L486.0 1589.3" stroke-width="1.61" />
<path d="M344.7 1370.9 L344.7 1429.0" stroke-width="1.61" fill="none" />
<path d="M378.4 1370.9 L378.4 1630.4" stroke-width="1.84" fill="none" />
<path d="M391.8 1370.9 L391.8 1582.1" stroke-width="1.61" fill="none" />
<path d="M377.6 1628.5 L377.6 1636.5 A13.7 5.4 0 0 0 405.0 1636.5 L405.0 1628.5" stroke-width="1.49" fill="#fff" />
<path d="M252.6 1600 C253 1570 255 1545 258.5 1521 C262 1497 268 1478 279 1462 C292 1444 312 1433 338 1428.5 C350 1426.8 362 1426.6 376 1426.6 L378.4 1426.6 L378.4 1630.6 Z" stroke-width="1.72" fill="#fff" />
<path d="M378.4 1426.6 L391.8 1424.2" stroke-width="1.49" fill="none" />
<path d="M378.4 1583.9 L391.3 1579.8 L411.5 1585.5 L394.5 1590.3 Z" stroke-width="1.49" fill="#fff" />
<path d="M378.4 1583.9 L394.5 1590.3 L394.5 1627.4 L378.4 1624.2 Z" stroke-width="1.49" fill="#fff" />
<path d="M394.5 1590.3 L411.5 1585.5 L411.5 1622.6 L394.5 1627.4 Z" stroke-width="1.49" fill="#fff" />
<path d="M387.3 1437.1 L393.7 1437.1 L393.7 1451.7 L387.3 1450.7 Z" stroke-width="0" fill="#fff" />
<ellipse cx="387.3" cy="1443.9" rx="4.0" ry="6.8" stroke-width="1.49" fill="#fff" />
<path d="M387.3 1437.1 L393.7 1437.1 M387.3 1450.7 L393.7 1451.7" stroke-width="1.49" fill="none" />
<ellipse cx="393.7" cy="1444.4" rx="4.7" ry="7.3" stroke-width="1.61" fill="#fff" />
<ellipse cx="393.9" cy="1444.6" rx="2.0" ry="3.4" stroke-width="1.72" fill="#777" />
<path d="M387.3 1558.0 L393.7 1558.3 L393.7 1572.9 L387.3 1571.6 Z" stroke-width="0" fill="#fff" />
<ellipse cx="387.3" cy="1564.8" rx="4.0" ry="6.8" stroke-width="1.49" fill="#fff" />
<path d="M387.3 1558.0 L393.7 1558.3 M387.3 1571.6 L393.7 1572.9" stroke-width="1.49" fill="none" />
<ellipse cx="393.7" cy="1565.6" rx="4.7" ry="7.3" stroke-width="1.61" fill="#fff" />
<ellipse cx="393.9" cy="1565.8" rx="2.0" ry="3.4" stroke-width="1.72" fill="#777" />
<path d="M276.0 1584.3 L269.5 1585.0 L269.5 1599.6 L276.0 1597.9 Z" stroke-width="0" fill="#fff" />
<ellipse cx="276.0" cy="1591.1" rx="4.0" ry="6.8" stroke-width="1.49" fill="#fff" />
<path d="M276.0 1584.3 L269.5 1585.0 M276.0 1597.9 L269.5 1599.6" stroke-width="1.49" fill="none" />
<ellipse cx="269.5" cy="1592.3" rx="4.7" ry="7.3" stroke-width="1.61" fill="#fff" />
<ellipse cx="269.7" cy="1592.5" rx="2.0" ry="3.4" stroke-width="1.72" fill="#777" />
<path d="M357.4 1604.5 L350.6 1605.3 L350.6 1619.9 L357.4 1618.1 Z" stroke-width="0" fill="#fff" />
<ellipse cx="357.4" cy="1611.3" rx="4.0" ry="6.8" stroke-width="1.49" fill="#fff" />
<path d="M357.4 1604.5 L350.6 1605.3 M357.4 1618.1 L350.6 1619.9" stroke-width="1.49" fill="none" />
<ellipse cx="350.6" cy="1612.6" rx="4.7" ry="7.3" stroke-width="1.61" fill="#fff" />
<ellipse cx="350.8" cy="1612.8" rx="2.0" ry="3.4" stroke-width="1.72" fill="#777" />
</g></g>
</svg>
<div class="t" style="left:74.99px;top:59.09px;font-size:46.2px;font-weight:700;transform:scaleX(0.9726);">INSTRUCCIONES DE</div>
<div class="t" style="left:75.00px;top:107.99px;font-size:46.2px;font-weight:700;transform:scaleX(0.9701);">MONTAJE</div>
<div class="t" style="left:148.00px;top:529.70px;font-size:18.9px;font-weight:700;transform:scaleX(1.1062);">Nota:</div>
<div class="t" style="left:148.00px;top:555.69px;font-size:18.8px;transform:scaleX(1.0437);">Colocar los separadores laterales</div>
<div class="t" style="left:148.14px;top:582.69px;font-size:18.8px;transform:scaleX(1.0734);">con los pliegues hacia el interior</div>
<div class="t" style="left:148.15px;top:609.39px;font-size:18.8px;transform:scaleX(1.0711);">del expositor y la inclinación para</div>
<div class="t" style="left:147.65px;top:635.69px;font-size:18.8px;transform:scaleX(1.0664);">la cartela &nbsp;como se indica en el</div>
<div class="t" style="left:148.15px;top:662.29px;font-size:18.8px;transform:scaleX(1.0612);">esquema superior.</div>
<div class="t" style="left:612.91px;top:338.92px;font-size:18.4px;transform:scaleX(1.0655);">Separador</div>
<div class="t" style="left:612.94px;top:364.72px;font-size:18.4px;transform:scaleX(1.0958);">cartela superior</div>
<div class="t" style="left:776.81px;top:136.96px;font-size:21.9px;font-weight:700;transform:scaleX(0.9867);">Cartela</div>
<div class="t" style="left:776.94px;top:165.86px;font-size:21.9px;font-weight:700;transform:scaleX(0.9885);">superior</div>
<div class="t" style="left:813.14px;top:275.38px;font-size:21.4px;font-weight:700;transform:scaleX(1.0200);">Panel Superior</div>
<div class="t" style="left:820.19px;top:1003.25px;font-size:21.2px;font-weight:700;transform:scaleX(1.0631);">Panel Inferior</div>
<div class="t" style="left:1089.10px;top:146.50px;font-size:17.6px;font-weight:700;transform:scaleX(1.0130);">Tornillos</div>
<div class="t" style="left:1088.51px;top:170.50px;font-size:17.6px;font-weight:700;transform:scaleX(1.0986);">M8 X 16</div>
<div class="t" style="left:1089.20px;top:194.50px;font-size:17.6px;font-weight:700;transform:scaleX(1.0278);">(8 uds.)</div>
<div class="t" style="left:1027.12px;top:445.52px;font-size:17.1px;transform:scaleX(1.0198);">Gancho con</div>
<div class="t" style="left:1026.84px;top:469.32px;font-size:17.1px;transform:scaleX(1.0557);">porta-referencias</div>
<div class="t" style="left:1027.32px;top:493.22px;font-size:17.1px;transform:scaleX(1.0162);">(30 unidades).</div>
<div class="t" style="left:1007.57px;top:649.20px;font-size:15px;transform:scaleX(1.0644);">Unión mediante</div>
<div class="t" style="left:1007.79px;top:670.70px;font-size:15px;transform:scaleX(1.0126);">mechas de chapa</div>
<div class="t" style="left:1007.80px;top:692.00px;font-size:15px;transform:scaleX(1.0339);">plegada</div>
<div class="t" style="left:828.82px;top:1121.25px;font-size:15.3px;transform:scaleX(1.0865);">Unión mediante</div>
<div class="t" style="left:829.06px;top:1142.15px;font-size:15.3px;transform:scaleX(1.0255);">mechas de chapa</div>
<div class="t" style="left:829.06px;top:1163.45px;font-size:15.3px;transform:scaleX(1.0549);">plegada</div>
<div class="t" style="left:553.10px;top:1059.90px;font-size:17.6px;font-weight:700;">Tornillos</div>
<div class="t" style="left:552.31px;top:1083.70px;font-size:17.6px;font-weight:700;transform:scaleX(1.0939);">M8 X 16</div>
<div class="t" style="left:552.90px;top:1107.50px;font-size:17.6px;font-weight:700;transform:scaleX(1.0311);">(8 uds.)</div>
<div class="t" style="left:1072.63px;top:1135.11px;font-size:17px;transform:scaleX(0.9811);">Escuadra</div>
<div class="t" style="left:1072.82px;top:1158.91px;font-size:17px;transform:scaleX(1.0752);">para fijación</div>
<div class="t" style="left:611.15px;top:1329.72px;font-size:21.6px;font-weight:700;transform:scaleX(0.9344);">Base</div>
<div class="t" style="left:611.14px;top:1357.49px;font-size:18.2px;transform:scaleX(0.9859);">con niveladores</div>
<div class="t" style="left:214.40px;top:1197.60px;font-size:17.6px;font-weight:700;color:#2a2a2a;transform:scaleX(1.0102);">Tornillos</div>
<div class="t" style="left:214.23px;top:1221.50px;font-size:17.6px;font-weight:700;color:#2a2a2a;transform:scaleX(1.0829);">M8 X 16</div>
<div class="t" style="left:214.60px;top:1245.50px;font-size:17.6px;font-weight:700;color:#2a2a2a;transform:scaleX(1.0228);">(16 uds.)</div>
<div class="t" style="left:334.35px;top:1286.16px;font-size:19.3px;font-weight:700;transform:scaleX(1.0473);">Llave</div>
<div class="t" style="left:335.19px;top:1308.16px;font-size:19.3px;font-weight:700;transform:scaleX(1.0624);">Allen</div>
<div class="t" style="left:533.24px;top:1414.39px;font-size:23.4px;font-weight:700;transform:scaleX(1.0597);">1-</div>
<div class="t" style="left:559.03px;top:1417.76px;font-size:19.3px;transform:scaleX(1.0534);">Montar panel inferior sobre la base.</div>
<div class="t" style="left:533.97px;top:1446.29px;font-size:23.4px;font-weight:700;transform:scaleX(1.0229);">2-</div>
<div class="t" style="left:559.04px;top:1449.66px;font-size:19.3px;transform:scaleX(1.0493);">Fijar las 2 escuadras sobre la base y el panel inferior con los 8 tornillos.</div>
<div class="t" style="left:559.40px;top:1477.43px;font-size:15.2px;font-weight:700;transform:scaleX(1.0808);">Importante:</div>
<div class="t" style="left:559.47px;top:1499.84px;font-size:14.6px;transform:scaleX(1.1148);">Con la llave Allen suministrada, apretar bien los <b>8 tornillos.</b></div>
<div class="t" style="left:534.26px;top:1522.69px;font-size:23.4px;font-weight:700;transform:scaleX(1.0083);">3-</div>
<div class="t" style="left:558.82px;top:1526.06px;font-size:19.3px;transform:scaleX(1.0555);">Insertar el panel superior sobre el panel inferior.</div>
<div class="t" style="left:534.45px;top:1554.39px;font-size:23.4px;font-weight:700;">4-</div>
<div class="t" style="left:559.04px;top:1557.66px;font-size:19.3px;transform:scaleX(1.0466);">Fijar los soportes de la cartela y la cartela con los 8 tornillos.</div>
<div class="t" style="left:559.40px;top:1585.63px;font-size:15.2px;font-weight:700;transform:scaleX(1.0808);">Importante:</div>
<div class="t" style="left:559.47px;top:1607.84px;font-size:14.6px;transform:scaleX(1.1148);">Con la llave Allen suministrada, apretar bien los <b>8 tornillos.</b></div>
<div class="t" style="left:534.07px;top:1630.79px;font-size:23.4px;font-weight:700;transform:scaleX(1.0180);">5-</div>
<div class="t" style="left:559.03px;top:1634.16px;font-size:19.3px;transform:scaleX(1.0546);">Montar los ganchos según distribución deseada.</div>
</div></body></html>
